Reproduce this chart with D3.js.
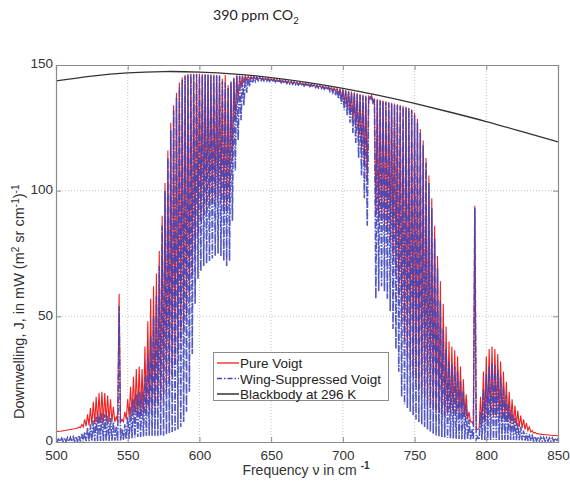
<!DOCTYPE html>
<html><head><meta charset="utf-8">
<script src="https://cdn.jsdelivr.net/npm/d3@7/dist/d3.min.js"></script>
<style>
html,body{margin:0;padding:0;background:#fff;}
svg{display:block;}
</style></head>
<body>
<svg id="chart" width="570" height="485"></svg>
<script>
// ---- DATA ----
const xTicks = [500, 550, 600, 650, 700, 750, 800, 850];
const yTicks = [0, 50, 100, 150];
// line centres every 2 cm-1 (500..850) and mid-points between lines (501..849)
const lineStart = 500, lineStep = 2;

const pureVoigtPeaks = [
  4.2,4.3,4.4,4.6,4.8,5.0,5.2,5.5,6.0,7.0,
  9,11,13.5,16,18,19.5,20,19.5,18.5,17,
  14,10,59,9,12,17,22,26,29,30,
  29,38,48,57,62,67,76,90,103,116,
  127,134,139,143,145,146,146.4,146.5,146.5,146.5,
  146.5,146.4,146.4,146.3,146.2,146.1,146,145.9,144.5,146,
  142,143.5,145,145.9,145.8,145.7,145.6,145.5,145.4,145.3,
  145.2,145.1,144.9,144.8,144.7,144.6,144.45,144.3,144.15,144,
  143.8,143.65,143.5,143.35,143.2,143.05,142.9,142.75,142.6,142.4,
  142.2,142,141.8,141.6,141.45,141.25,141.05,140.85,140.65,140.5,
  140.3,140,139.7,139.4,139.1,138.8,138.5,138.2,137.9,137.6,
  137.8,136.8,136.5,136.2,135.9,135.6,135.3,135,134.7,134.4,
  134.1,133.8,133.4,133,132.3,131,128.5,124.5,120,113,
  106,97,86,74,64,55,46,40,38,36.5,
  34,30,25,19,12,8,94,5,18,28,
  34,37,38,37,35,32,28,24,20,17,
  14.5,12.5,10.5,9,7.5,6,4.5,3.8,3.4,3.2,
  3,2.9,2.8,2.7,2.6,2.5
];
const pureVoigtTroughs = [
  4.2,4.3,4.5,4.7,4.9,5.1,5.3,5.5,5.7,6,
  6.3,6.6,6.9,7.2,7.4,7.6,7.8,8,8,8,
  8,8,8,8,9,10,10.5,11,11,11,
  11,12,13,13,14,15,16,18,20,23,
  27,31,35,40,45,50,58,66,75,82,
  88,90,92,94,95,96,97,96,92,92,
  95,112,128,136,141,143,144,144.5,144.6,144.5,
  144.4,144.3,144.1,144,143.9,143.8,143.65,143.5,143.35,143.2,
  143,142.85,142.7,142.55,142.4,142.25,142.1,141.95,141.8,141.6,
  141.4,141.2,141,140.8,140.6,140.3,140,139.5,138.5,137,
  135,133,131,128,125,121,116,110,104,137,
  135,90,88,88,86,84,80,74,66,58,
  48,40,34,30,27,24,21,19,17,15,
  14,13,12,11.5,11,11,11,11,11,11,
  11,10.5,10,9,8,7,5,5.5,7,8,
  9,10,10,10,9.5,9,8.5,8,7.5,7,
  6.5,6,5.5,5,4.5,4,3.6,3.3,3.1,3,
  2.9,2.8,2.7,2.6,2.5
];
const wingSuppPeaks = [
  1.5,1.5,1.5,1.6,1.7,1.8,2,2.2,2.6,3.2,
  4,5.5,7,8.5,10,11,11.5,11,10.5,9.5,
  8,6,54,5,7,10,14,17,19,20,
  20,26,34,42,50,58,70,86,100,113,
  124,132,137,141,144,145.5,146,146.2,146.2,146.2,
  146.2,146.1,146.1,146,145.9,145.8,145.7,145.6,143.5,143,
  141,143,144.5,145.7,145.6,145.5,145.4,145.3,145.2,145.1,
  145,144.9,144.7,144.6,144.5,144.4,144.25,144.1,143.95,143.8,
  143.6,143.45,143.3,143.15,143,142.85,142.7,142.55,142.4,142.2,
  142,141.8,141.6,141.4,141.25,141.05,140.85,140.65,140.45,140.3,
  140.1,139.6,139.3,139,138.7,138.4,138.1,137.8,137.5,137.2,
  137.4,136.4,136.1,135.8,135.5,135.2,134.9,134.6,134.3,134,
  133.7,133.4,133,132.6,132,130,127,123,118,111,
  103,93,81,69,56,45,37,32,31,30,
  28,24,20,15,9,5,93,2,12,21,
  27,30,31,30.5,29,26,22,18.5,15,12,
  9.5,7.5,6,4.5,3.5,3,2.5,2.2,2,1.9,
  1.8,1.7,1.6,1.6,1.5,1.5
];
const wingSuppTroughs = [
  0.2,0.2,0.2,0.2,0.2,0.2,0.2,0.2,0.2,0.2,
  0.3,0.3,0.3,0.3,0.4,0.4,0.4,0.4,0.4,0.5,
  0.5,0.5,0.6,0.8,1,1.2,1.5,1.8,2,2,
  2.2,2.5,2.5,2.5,2.5,2.5,2.5,2.5,3,3.5,
  4,4.5,5,6,8,12,20,35,55,65,
  68,70,71,72,73,74,75,74,72,70,
  72,88,108,120,128,134,139,141.5,142.8,143.5,
  143.8,143.8,143.7,143.6,143.5,143.4,143.25,143.1,142.95,142.8,
  142.6,142.45,142.3,142.15,142,141.85,141.7,141.55,141.4,141.2,
  141,140.8,140.6,140.4,140.2,139.5,139,138,136.5,134.5,
  132,130,127,123,119,113,106,97,86,136,
  134.5,57,60,62,60,57,52,45,37,28,
  18,15,13.5,12,10.5,9,8,7,6,5,
  4,3.2,2.6,2.2,2,1.8,1.6,1.5,1.4,1.3,
  1.2,1.1,1,1,1,1,1,0.9,0.8,0.8,
  0.8,0.8,0.8,0.8,0.8,0.8,0.8,0.8,0.8,0.8,
  0.7,0.7,0.6,0.6,0.5,0.5,0.4,0.4,0.4,0.3,
  0.3,0.3,0.3,0.3,0.3
];
const blackbodyFreq = [500,525,550,575,600,625,650,675,700,725,750,775,800,825,850];
const blackbody296K = [143.7,145.6,146.9,147.4,147.2,146.4,145.0,143.1,140.7,137.9,134.7,131.2,127.5,123.5,119.4];
const legendLabels = ["Pure Voigt", "Wing-Suppressed Voigt", "Blackbody at 296 K"];

// ---- BUILD ----
function zig(peaks, troughs) {
  const pts = [];
  peaks.forEach((p, i) => {
    pts.push([lineStart + lineStep * i, p]);
    if (i < troughs.length) pts.push([lineStart + lineStep * i + lineStep / 2, troughs[i]]);
  });
  return pts;
}
const redPts = zig(pureVoigtPeaks, pureVoigtTroughs);
const bluePts = zig(wingSuppPeaks, wingSuppTroughs);
const bbPts = blackbodyFreq.map((f, i) => [f, blackbody296K[i]]);

const L = 56, R = 558, T = 65, B = 442;
const svg = d3.select("#chart");
const x = d3.scaleLinear().domain([500, 850]).range([L, R]);
const y = d3.scaleLinear().domain([0, 150]).range([B, T]);
const FONT = "'Liberation Sans', Arial, sans-serif";
const RED = "#ee2020", BLUE = "#3f45b8";

svg.append("defs").append("clipPath").attr("id", "clip")
  .append("rect").attr("x", L).attr("y", T).attr("width", R - L).attr("height", B - T);

// grid
const grid = svg.append("g");
grid.selectAll("line.gx").data(xTicks.slice(1, -1)).join("line")
  .attr("x1", d => x(d)).attr("x2", d => x(d)).attr("y1", T).attr("y2", B)
  .attr("stroke", "#c4c4c4").attr("stroke-width", 1).attr("stroke-dasharray", "1,2");
grid.selectAll("line.gy").data(yTicks.slice(1, -1)).join("line")
  .attr("y1", d => y(d)).attr("y2", d => y(d)).attr("x1", L).attr("x2", R)
  .attr("stroke", "#c4c4c4").attr("stroke-width", 1).attr("stroke-dasharray", "1,2");

const plot = svg.append("g").attr("clip-path", "url(#clip)");
const line = d3.line().x(d => x(d[0])).y(d => y(d[1]));
plot.append("path").attr("d", line(redPts)).attr("fill", "none")
  .attr("stroke", RED).attr("stroke-width", 1.1);
plot.append("path").attr("d", line(bluePts)).attr("fill", "none")
  .attr("stroke", BLUE).attr("stroke-width", 1.6).attr("stroke-dasharray", "7,1.5,1.5,1.5").attr("stroke-opacity", 0.9);
plot.append("path").attr("d", line.curve(d3.curveNatural)(bbPts)).attr("fill", "none")
  .attr("stroke", "#333").attr("stroke-width", 1.3);

// axes
const axB = d3.axisBottom(x).tickValues(xTicks).tickSize(-5).tickPadding(8);
const axT = d3.axisTop(x).tickValues(xTicks).tickSize(-5).tickFormat("");
const axL = d3.axisLeft(y).tickValues(yTicks).tickSize(-5).tickPadding(3);
const axR = d3.axisRight(y).tickValues(yTicks).tickSize(-5).tickFormat("");
function style(g) {
  g.selectAll("path.domain").attr("stroke", "#8c8c8c").attr("stroke-width", 1.2);
  g.selectAll(".tick line").attr("stroke", "#8c8c8c");
  g.selectAll("text").attr("fill", "#333").style("font-family", FONT).style("font-size", "13.5px");
}
svg.append("g").attr("transform", `translate(0,${B})`).call(axB).call(style);
svg.append("g").attr("transform", `translate(0,${T})`).call(axT).call(style);
const gl = svg.append("g").attr("transform", `translate(${L},0)`).call(axL).call(style);
gl.selectAll("text").attr("dy", "0.2em");
svg.append("g").attr("transform", `translate(${R},0)`).call(axR).call(style);

// title
const title = svg.append("text").attr("x", 213).attr("y", 20)
  .style("font-family", "Lato, 'Open Sans', sans-serif").style("font-size", "14.2px").attr("fill", "#222");
title.append("tspan").text("390 ppm CO");
title.append("tspan").attr("dy", 4).style("font-size", "9.5px").text("2");

// x label
const xl = svg.append("text").attr("x", 306).attr("y", 475).attr("text-anchor", "middle")
  .style("font-family", FONT).style("font-size", "14px").attr("fill", "#333");
xl.append("tspan").text("Frequency \u03bd in cm ");
xl.append("tspan").attr("dy", -6).style("font-size", "10px").style("font-weight", "bold").text("-1");

// y label
const yl = svg.append("text").attr("transform", "translate(24,419) rotate(-90)").attr("text-anchor", "start")
  .style("font-family", FONT).style("font-size", "14.5px").attr("fill", "#333");
yl.append("tspan").text("Downwelling, J,  in mW (m");
yl.append("tspan").attr("dy", -5).style("font-size", "10px").text("2");
yl.append("tspan").attr("dy", 5).text(" sr cm");
yl.append("tspan").attr("dy", -5).style("font-size", "10px").text("-1");
yl.append("tspan").attr("dy", 5).text(")");
yl.append("tspan").attr("dy", -5).style("font-size", "10px").text("-1");

// legend
const lg = svg.append("g");
lg.append("rect").attr("x", 213.5).attr("y", 352.5).attr("width", 175).attr("height", 48)
  .attr("fill", "#fff").attr("stroke", "#8c8c8c").attr("stroke-width", 1);
const lstyles = [
  {c: RED, d: null, w: 1.3},
  {c: BLUE, d: "5,2,1.5,2", w: 1.3},
  {c: "#333", d: null, w: 1.5}
];
legendLabels.forEach((t, i) => {
  const yy = 363 + i * 15.5;
  lg.append("line").attr("x1", 217).attr("x2", 239).attr("y1", yy).attr("y2", yy)
    .attr("stroke", lstyles[i].c).attr("stroke-width", lstyles[i].w)
    .attr("stroke-dasharray", lstyles[i].d);
  lg.append("text").attr("x", 240).attr("y", yy + 5).text(t)
    .style("font-family", FONT).style("font-size", "13.5px").attr("fill", "#222");
});
</script>
</body></html>
